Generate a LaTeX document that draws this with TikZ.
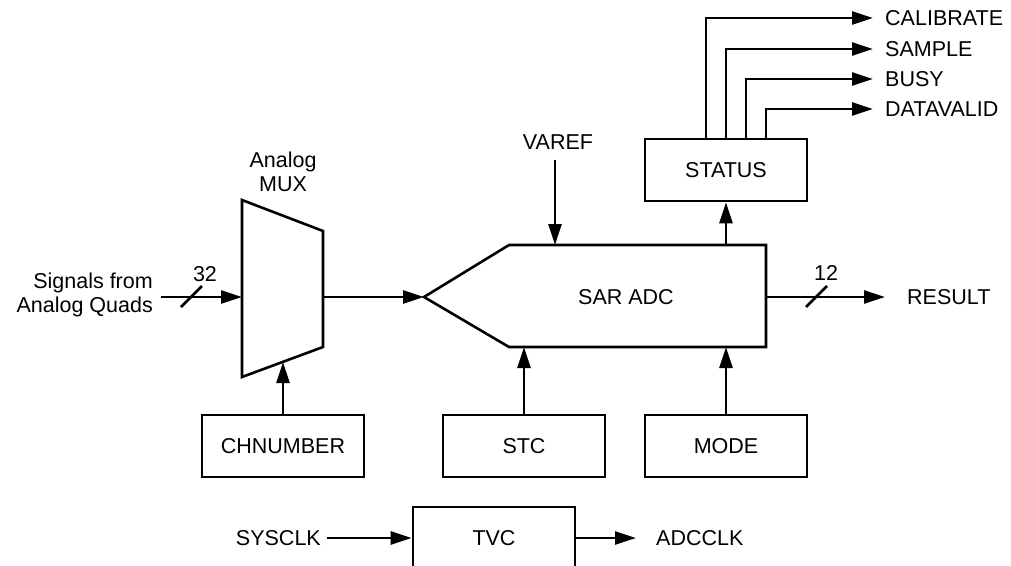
\documentclass[tikz,border=0pt]{standalone}
\usepackage{fontspec}
\setmainfont{Liberation Sans}
\usetikzlibrary{arrows.meta}
\newcommand\dlabelfont{\fontsize{21.5}{24}\selectfont}
\begin{document}
\begin{tikzpicture}[x=1pt,y=-1pt,
  lw/.style={line width=2.6pt},
  blk/.style={draw,lw,minimum width=162pt,minimum height=62pt,inner sep=0pt,font=\dlabelfont},
  arr/.style={lw,-{Triangle[length=21pt,width=13pt]}},
  txt/.style={font=\dlabelfont,inner sep=0pt},
  shp/.style={lw,line join=miter},
]
\useasboundingbox (0,0) rectangle (1011,565);
\clip (0,0) rectangle (1011,565);

% Analog MUX
\draw[shp] (242,200) -- (323,231) -- (323,347) -- (242,377) -- cycle;
\coordinate (muxin) at (242,297);
\coordinate (muxout) at (323,297);
\coordinate (muxbot) at (283,362);
\node[txt,align=center] (muxlbl) at (283,172) {Analog\\MUX};

% SAR ADC
\draw[shp] (424,297) -- (509,245) -- (766,245) -- (766,347) -- (509,347) -- cycle;
\coordinate (adcin) at (424,297);
\coordinate (adcout) at (766,297);
\coordinate (adcvref) at (555,245);
\coordinate (adcstat) at (726,245);
\coordinate (adcstc) at (524,347);
\coordinate (adcmode) at (726,347);
\node[txt] (adclbl) at (626,297) {SAR ADC};

% input signals
\node[txt,align=right,anchor=east] (sig) at (153,295) {Signals from\\Analog Quads};
\coordinate (sigin) at (161,297);
\draw[arr] (sigin) -- (muxin);
\draw[lw] (181,307) -- (202,286);
\node[txt] (n32) at (205,274) {32};

\draw[arr] (muxout) -- (adcin);

% VAREF
\node[txt] (vref) at (558,142) {VAREF};
\coordinate (vrefs) at (555,160);
\draw[arr] (vrefs) -- (adcvref);

% STATUS
\node[blk] (status) at (726,170) {STATUS};
\draw[arr] (adcstat) -- (status.south);
\node[txt,anchor=west] (cal) at (885,18) {CALIBRATE};
\node[txt,anchor=west] (smp) at (885,49) {SAMPLE};
\node[txt,anchor=west] (busy) at (885,79) {BUSY};
\node[txt,anchor=west] (dv) at (885,109) {DATAVALID};
\draw[arr] ([xshift=-20pt]status.north) |- ([xshift=-12pt]cal.west);
\draw[arr] (status.north) |- ([xshift=-12pt]smp.west);
\draw[arr] ([xshift=20pt]status.north) |- ([xshift=-12pt]busy.west);
\draw[arr] ([xshift=40pt]status.north) |- ([xshift=-12pt]dv.west);

% RESULT
\node[txt,anchor=west] (res) at (907,297) {RESULT};
\draw[arr] (adcout) -- ([xshift=-22pt]res.west);
\draw[lw] (806,307) -- (827,286);
\node[txt] (n12) at (826,273) {12};

% lower blocks
\node[blk] (chn) at (283,446) {CHNUMBER};
\node[blk] (stc) at (524,446) {STC};
\node[blk] (mode) at (726,446) {MODE};
\draw[arr] (chn.north) -- (muxbot);
\draw[arr] (stc.north) -- (adcstc);
\draw[arr] (mode.north) -- (adcmode);

% TVC
\node[blk] (tvc) at (494,538) {TVC};
\node[txt,anchor=east] (sysclk) at (321,538) {SYSCLK};
\node[txt,anchor=west] (adcclk) at (656,538) {ADCCLK};
\draw[arr] ([xshift=6pt]sysclk.east) -- (tvc.west);
\draw[arr] (tvc.east) -- ([xshift=-20pt]adcclk.west);
\end{tikzpicture}
\end{document}
